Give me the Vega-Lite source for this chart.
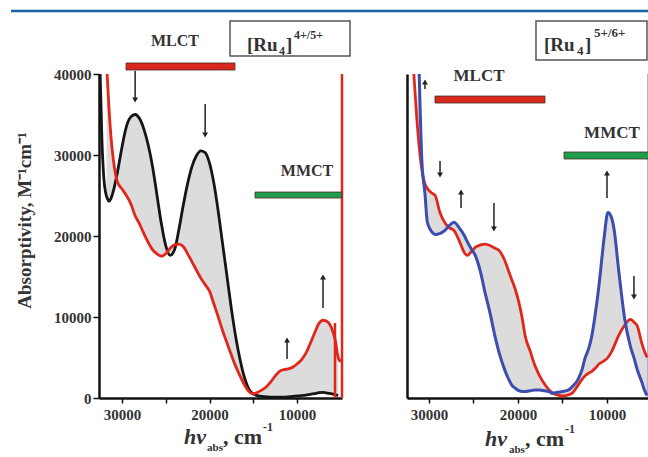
{
  "$schema": "https://vega.github.io/schema/vega-lite/v6.json",
  "padding": {"left": 9, "top": 9, "right": 0, "bottom": 0},
  "bounds": "flush",
  "spacing": 65,
  "config": {
    "view": {"stroke": null},
    "axis": {"domainColor": "#111", "domainWidth": 2.5, "tickColor": "#111", "tickWidth": 1.5, "labelFont": "Liberation Serif", "labelFontWeight": "bold", "labelFontSize": 15, "labelColor": "#333", "titleFont": "Liberation Serif", "titleFontWeight": "bold", "titleFontSize": 19, "titleColor": "#333", "grid": false, "labelOverlap": false},
    "text": {"font": "Liberation Serif", "fontWeight": "bold", "color": "#333"}
  },
  "hconcat": [
    {
      "width": 243,
      "height": 324,
      "encoding": {
        "x": {"field": "x", "type": "quantitative", "scale": {"domain": [4860, 32630], "reverse": true, "nice": false, "zero": false},
          "axis": {"values": [30000, 25000, 20000, 15000, 10000], "format": "d", "labelExpr": "datum.value % 10000 === 0 ? datum.label : ''", "tickSize": 5, "labelPadding": 4, "title": null}},
        "y": {"field": "y", "type": "quantitative", "scale": {"domain": [0, 40000], "nice": false, "zero": false},
          "axis": {"values": [0, 10000, 20000, 30000, 40000], "format": "d", "tickSize": 6, "labelPadding": 2, "title": "Absorptivity, M⁻¹cm⁻¹", "titleX": -75, "titleY": 146, "titleAngle": 270, "titleAlign": "center", "titleBaseline": "middle"}}
      },
      "layer": [
        {
          "data": {"values": [{"x": 42690, "x2": -30340, "y": 47780}]},
          "mark": {"type": "rule", "color": "#1b63a0", "strokeWidth": 2.5},
          "encoding": {"x2": {"field": "x2"}}
        },
        {
          "data": {"name": "left"},
          "mark": {"type": "area", "color": "#c4c4c4", "opacity": 0.6, "interpolate": "monotone"},
          "encoding": {"y": {"field": "black", "type": "quantitative", "scale": {"domain": [0, 40000], "nice": false, "zero": false},
            "axis": {"values": [0, 10000, 20000, 30000, 40000], "format": "d", "tickSize": 6, "labelPadding": 2, "title": "Absorptivity, M⁻¹cm⁻¹", "titleX": -75, "titleY": 146, "titleAngle": 270, "titleAlign": "center", "titleBaseline": "middle"}}, "y2": {"field": "red"}}
        },
        {
          "data": {"name": "left"},
          "mark": {"type": "line", "color": "#151515", "strokeWidth": 2.8, "interpolate": "monotone"},
          "encoding": {"y": {"field": "black", "type": "quantitative", "scale": {"domain": [0, 40000], "nice": false, "zero": false},
            "axis": {"values": [0, 10000, 20000, 30000, 40000], "format": "d", "tickSize": 6, "labelPadding": 2, "title": "Absorptivity, M⁻¹cm⁻¹", "titleX": -75, "titleY": 146, "titleAngle": 270, "titleAlign": "center", "titleBaseline": "middle"}}}
        },
        {
          "data": {"name": "left"},
          "mark": {"type": "line", "color": "#e1261c", "strokeWidth": 2.8, "interpolate": "monotone"},
          "encoding": {"y": {"field": "red", "type": "quantitative", "scale": {"domain": [0, 40000], "nice": false, "zero": false},
            "axis": {"values": [0, 10000, 20000, 30000, 40000], "format": "d", "tickSize": 6, "labelPadding": 2, "title": "Absorptivity, M⁻¹cm⁻¹", "titleX": -75, "titleY": 146, "titleAngle": 270, "titleAlign": "center", "titleBaseline": "middle"}}}
        },
        {
          "data": {"values": [{"x": 4860, "y": 0, "y2": 40000}, {"x": 5660, "y": 0, "y2": 9260}]},
          "mark": {"type": "rule", "color": "#e1261c", "strokeWidth": 2.5},
          "encoding": {"y2": {"field": "y2"}}
        },
        {
          "data": {"values": [{"x": 29540, "x2": 17090, "y": 40490, "y2": 41360, "band": "MLCT"}, {"x": 14800, "x2": 4900, "y": 24690, "y2": 25430, "band": "MMCT"}]},
          "mark": {"type": "rect", "stroke": "#4a2a20", "strokeWidth": 0.8},
          "encoding": {"x2": {"field": "x2"}, "y2": {"field": "y2"}, "color": {"field": "band", "type": "nominal", "scale": {"domain": ["MLCT", "MMCT"], "range": ["#d8281e", "#1e9e4c"]}, "legend": null}}
        },
        {
          "data": {"values": [{"x": 23943, "y": 44075, "t": "MLCT"}, {"x": 8857, "y": 28025, "t": "MMCT"}]},
          "mark": {"type": "text", "fontSize": 16, "baseline": "middle", "align": "center"},
          "encoding": {"text": {"field": "t"}}
        },
        {
          "data": {"name": "leftArrows"},
          "mark": {"type": "rule", "color": "#222", "strokeWidth": 1.5},
          "encoding": {"y2": {"field": "y2"}}
        },
        {
          "data": {"name": "leftHeads"},
          "mark": {"type": "point", "filled": true, "color": "#222", "opacity": 1, "size": 35},
          "encoding": {"shape": {"field": "d", "type": "nominal", "scale": {"domain": ["down", "up"], "range": ["triangle-down", "triangle-up"]}, "legend": null}}
        },
        {
          "data": {"values": [{"x": 17657, "x2": 3943, "y": 42223, "y2": 46543}]},
          "mark": {"type": "rect", "fill": "white", "stroke": "#555", "strokeWidth": 1.5},
          "encoding": {"x2": {"field": "x2"}, "y2": {"field": "y2"}}
        },
        {
          "data": {"values": [{"x": 15714, "y": 42840, "t": "[Ru"}, {"x": 11257, "y": 42840, "t": "]"}]},
          "mark": {"type": "text", "fontSize": 19, "align": "left", "baseline": "alphabetic"},
          "encoding": {"text": {"field": "t"}}
        },
        {
          "data": {"values": [{"x": 12057, "y": 42346, "t": "4"}, {"x": 10343, "y": 44322, "t": "4+/5+"}]},
          "mark": {"type": "text", "fontSize": 12, "align": "left", "baseline": "alphabetic"},
          "encoding": {"text": {"field": "t"}}
        },
        {
          "data": {"values": [{"x": 22914, "y": -5679, "t": "hν"}]},
          "mark": {"type": "text", "fontSize": 22, "fontStyle": "italic", "align": "left", "baseline": "alphabetic"},
          "encoding": {"text": {"field": "t"}}
        },
        {
          "data": {"values": [{"x": 18457, "y": -5679, "t": ", cm"}]},
          "mark": {"type": "text", "fontSize": 22, "align": "left", "baseline": "alphabetic"},
          "encoding": {"text": {"field": "t"}}
        },
        {
          "data": {"values": [{"x": 13886, "y": -4074, "t": "-1"}]},
          "mark": {"type": "text", "fontSize": 12, "align": "left", "baseline": "alphabetic"},
          "encoding": {"text": {"field": "t"}}
        },
        {
          "data": {"values": [{"x": 20286, "y": -6543, "t": "abs"}]},
          "mark": {"type": "text", "fontSize": 11, "align": "left", "baseline": "alphabetic"},
          "encoding": {"text": {"field": "t"}}
        }
      ]
    },
    {
      "width": 242,
      "height": 324,
      "encoding": {
        "x": {"field": "x", "type": "quantitative", "scale": {"domain": [5280, 32470], "reverse": true, "nice": false, "zero": false},
          "axis": {"values": [30000, 25000, 20000, 15000, 10000], "format": "d", "labelExpr": "datum.value % 10000 === 0 ? datum.label : ''", "tickSize": 5, "labelPadding": 4, "title": null}},
        "y": {"field": "y", "type": "quantitative", "scale": {"domain": [0, 40000], "nice": false, "zero": false},
          "axis": {"labels": false, "ticks": false, "title": null, "domain": true}}
      },
      "layer": [
        {
          "data": {"name": "right"},
          "mark": {"type": "area", "color": "#c4c4c4", "opacity": 0.6, "interpolate": "monotone"},
          "encoding": {"y": {"field": "red", "type": "quantitative", "scale": {"domain": [0, 40000], "nice": false, "zero": false}, "axis": {"labels": false, "ticks": false, "title": null, "domain": true}}, "y2": {"field": "blue"}}
        },
        {
          "data": {"name": "right"},
          "mark": {"type": "line", "color": "#e1261c", "strokeWidth": 2.8, "interpolate": "monotone"},
          "encoding": {"y": {"field": "red", "type": "quantitative", "scale": {"domain": [0, 40000], "nice": false, "zero": false}, "axis": {"labels": false, "ticks": false, "title": null, "domain": true}}}
        },
        {
          "data": {"name": "right"},
          "mark": {"type": "line", "color": "#3c4db0", "strokeWidth": 3, "interpolate": "monotone"},
          "encoding": {"y": {"field": "blue", "type": "quantitative", "scale": {"domain": [0, 40000], "nice": false, "zero": false}, "axis": {"labels": false, "ticks": false, "title": null, "domain": true}}}
        },
        {
          "data": {"values": [{"x": 5300, "y": 0, "y2": 40000}]},
          "mark": {"type": "rule", "color": "#3c4db0", "strokeWidth": 2.5},
          "encoding": {"y2": {"field": "y2"}}
        },
        {
          "data": {"values": [{"x": 29326, "x2": 16966, "y": 36420, "y2": 37280, "band": "MLCT"}, {"x": 14830, "x2": 5170, "y": 29510, "y2": 30370, "band": "MMCT"}]},
          "mark": {"type": "rect", "stroke": "#4a2a20", "strokeWidth": 0.8},
          "encoding": {"x2": {"field": "x2"}, "y2": {"field": "y2"}, "color": {"field": "band", "type": "nominal", "scale": {"domain": ["MLCT", "MMCT"], "range": ["#d8281e", "#1e9e4c"]}, "legend": null}}
        },
        {
          "data": {"values": [{"x": 24380, "y": 39750, "t": "MLCT"}, {"x": 9440, "y": 32720, "t": "MMCT"}]},
          "mark": {"type": "text", "fontSize": 17, "baseline": "middle", "align": "center"},
          "encoding": {"text": {"field": "t"}}
        },
        {
          "data": {"name": "rightArrows"},
          "mark": {"type": "rule", "color": "#222", "strokeWidth": 1.5},
          "encoding": {"y2": {"field": "y2"}}
        },
        {
          "data": {"name": "rightHeads"},
          "mark": {"type": "point", "filled": true, "color": "#222", "opacity": 1, "size": 35},
          "encoding": {"shape": {"field": "d", "type": "nominal", "scale": {"domain": ["down", "up"], "range": ["triangle-down", "triangle-up"]}, "legend": null}}
        },
        {
          "data": {"values": [{"x": 17978, "x2": 5506, "y": 41730, "y2": 46543}]},
          "mark": {"type": "rect", "fill": "white", "stroke": "#555", "strokeWidth": 1.5},
          "encoding": {"x2": {"field": "x2"}, "y2": {"field": "y2"}}
        },
        {
          "data": {"values": [{"x": 17079, "y": 42840, "t": "[Ru"}, {"x": 12472, "y": 42840, "t": "]"}]},
          "mark": {"type": "text", "fontSize": 19, "align": "left", "baseline": "alphabetic"},
          "encoding": {"text": {"field": "t"}}
        },
        {
          "data": {"values": [{"x": 13371, "y": 42346, "t": "4"}, {"x": 11461, "y": 44570, "t": "5+/6+"}]},
          "mark": {"type": "text", "fontSize": 13, "align": "left", "baseline": "alphabetic"},
          "encoding": {"text": {"field": "t"}}
        },
        {
          "data": {"values": [{"x": 23708, "y": -5926, "t": "hν"}]},
          "mark": {"type": "text", "fontSize": 22, "fontStyle": "italic", "align": "left", "baseline": "alphabetic"},
          "encoding": {"text": {"field": "t"}}
        },
        {
          "data": {"values": [{"x": 19213, "y": -5926, "t": ", cm"}]},
          "mark": {"type": "text", "fontSize": 22, "align": "left", "baseline": "alphabetic"},
          "encoding": {"text": {"field": "t"}}
        },
        {
          "data": {"values": [{"x": 14719, "y": -4321, "t": "-1"}]},
          "mark": {"type": "text", "fontSize": 12, "align": "left", "baseline": "alphabetic"},
          "encoding": {"text": {"field": "t"}}
        },
        {
          "data": {"values": [{"x": 21011, "y": -6790, "t": "abs"}]},
          "mark": {"type": "text", "fontSize": 11, "align": "left", "baseline": "alphabetic"},
          "encoding": {"text": {"field": "t"}}
        }
      ]
    }
  ],
  "datasets": {
    "left": [
      {"x": 32500, "black": 40000, "red": null},
      {"x": 32300, "black": 32000, "red": null},
      {"x": 32100, "black": 27500, "red": null},
      {"x": 31800, "black": 25000, "red": null},
      {"x": 31700, "black": 24700, "red": 40000},
      {"x": 31500, "black": 24300, "red": 36000},
      {"x": 31200, "black": 24800, "red": 31500},
      {"x": 31000, "black": 25500, "red": 29500},
      {"x": 30500, "black": 28000, "red": 26600},
      {"x": 30000, "black": 31000, "red": 25800},
      {"x": 29500, "black": 33500, "red": 25000},
      {"x": 29000, "black": 34700, "red": 24000},
      {"x": 28500, "black": 35000, "red": 22500},
      {"x": 28000, "black": 34500, "red": 21500},
      {"x": 27500, "black": 33200, "red": 20300},
      {"x": 27000, "black": 31200, "red": 19200},
      {"x": 26500, "black": 28500, "red": 18300},
      {"x": 26000, "black": 25000, "red": 17800},
      {"x": 25500, "black": 21500, "red": 17500},
      {"x": 25000, "black": 18800, "red": 17800},
      {"x": 24500, "black": 17600, "red": 18500},
      {"x": 24000, "black": 18300, "red": 18900},
      {"x": 23500, "black": 20800, "red": 19000},
      {"x": 23000, "black": 23800, "red": 18700},
      {"x": 22500, "black": 26500, "red": 17800},
      {"x": 22000, "black": 28600, "red": 16800},
      {"x": 21500, "black": 29900, "red": 15800},
      {"x": 21000, "black": 30500, "red": 14800},
      {"x": 20500, "black": 30300, "red": 14000},
      {"x": 20000, "black": 29000, "red": 13200},
      {"x": 19500, "black": 26500, "red": 11600},
      {"x": 19000, "black": 23000, "red": 10000},
      {"x": 18500, "black": 19000, "red": 8300},
      {"x": 18000, "black": 15000, "red": 6800},
      {"x": 17500, "black": 11000, "red": 5300},
      {"x": 17000, "black": 7500, "red": 3900},
      {"x": 16500, "black": 4700, "red": 2700},
      {"x": 16000, "black": 2500, "red": 1600},
      {"x": 15500, "black": 1100, "red": 800},
      {"x": 15000, "black": 500, "red": 500},
      {"x": 14500, "black": 300, "red": 700},
      {"x": 14000, "black": 200, "red": 1000},
      {"x": 13500, "black": 150, "red": 1400},
      {"x": 13000, "black": 100, "red": 2000},
      {"x": 12500, "black": 100, "red": 2700},
      {"x": 12000, "black": 100, "red": 3300},
      {"x": 11500, "black": 100, "red": 3500},
      {"x": 11000, "black": 150, "red": 3600},
      {"x": 10500, "black": 200, "red": 3800},
      {"x": 10000, "black": 250, "red": 4200},
      {"x": 9500, "black": 300, "red": 4700},
      {"x": 9000, "black": 350, "red": 5500},
      {"x": 8500, "black": 450, "red": 6700},
      {"x": 8000, "black": 550, "red": 8000},
      {"x": 7500, "black": 650, "red": 9200},
      {"x": 7000, "black": 700, "red": 9600},
      {"x": 6500, "black": 600, "red": 9400},
      {"x": 6000, "black": 500, "red": 8500},
      {"x": 5600, "black": 400, "red": 7000},
      {"x": 5300, "black": 300, "red": 5000},
      {"x": 5000, "black": null, "red": 4500}
    ],
    "right": [
      {"x": 31700, "red": 40000, "blue": null},
      {"x": 31400, "red": 35000, "blue": null},
      {"x": 31100, "red": 31000, "blue": 40000},
      {"x": 30800, "red": 28200, "blue": 29300},
      {"x": 30450, "red": 26400, "blue": 25200},
      {"x": 30200, "red": 25900, "blue": 21800},
      {"x": 29800, "red": 25400, "blue": 20700},
      {"x": 29300, "red": 25000, "blue": 20200},
      {"x": 28800, "red": 23000, "blue": 20300},
      {"x": 28200, "red": 21600, "blue": 20700},
      {"x": 27700, "red": 21000, "blue": 21300},
      {"x": 27200, "red": 20700, "blue": 21700},
      {"x": 26600, "red": 19400, "blue": 21000},
      {"x": 26000, "red": 17900, "blue": 20000},
      {"x": 25700, "red": 17600, "blue": 19300},
      {"x": 25300, "red": 18000, "blue": 18500},
      {"x": 24800, "red": 18600, "blue": 17600},
      {"x": 24200, "red": 18900, "blue": 15500},
      {"x": 23700, "red": 19000, "blue": 13000},
      {"x": 23100, "red": 18800, "blue": 10300},
      {"x": 22600, "red": 18500, "blue": 7700},
      {"x": 22100, "red": 18200, "blue": 5500},
      {"x": 21500, "red": 17000, "blue": 3500},
      {"x": 21000, "red": 15500, "blue": 2200},
      {"x": 20700, "red": 14600, "blue": 1600},
      {"x": 20300, "red": 13400, "blue": 1200},
      {"x": 19900, "red": 11800, "blue": 900},
      {"x": 19500, "red": 9700, "blue": 800},
      {"x": 19200, "red": 7700, "blue": 800},
      {"x": 18600, "red": 5700, "blue": 900},
      {"x": 18100, "red": 4000, "blue": 1000},
      {"x": 17600, "red": 2800, "blue": 1000},
      {"x": 17000, "red": 1700, "blue": 900},
      {"x": 16500, "red": 1000, "blue": 800},
      {"x": 16200, "red": 700, "blue": 600},
      {"x": 15500, "red": 350, "blue": 700},
      {"x": 15000, "red": 250, "blue": 800},
      {"x": 14300, "red": 400, "blue": 1000},
      {"x": 13900, "red": 600, "blue": 1400},
      {"x": 13300, "red": 1500, "blue": 2200},
      {"x": 12800, "red": 2300, "blue": 3500},
      {"x": 12500, "red": 2700, "blue": 4800},
      {"x": 12000, "red": 3100, "blue": 6300},
      {"x": 11700, "red": 3300, "blue": 7700},
      {"x": 11300, "red": 3700, "blue": 10500},
      {"x": 10900, "red": 4200, "blue": 13900},
      {"x": 10600, "red": 4400, "blue": 17000},
      {"x": 10300, "red": 4600, "blue": 20000},
      {"x": 9900, "red": 5000, "blue": 22900},
      {"x": 9500, "red": 5700, "blue": 22300},
      {"x": 9200, "red": 6400, "blue": 20800},
      {"x": 8700, "red": 7700, "blue": 15900},
      {"x": 8000, "red": 9000, "blue": 9700},
      {"x": 7400, "red": 9700, "blue": 6500},
      {"x": 6900, "red": 9300, "blue": 4700},
      {"x": 6600, "red": 8900, "blue": 3500},
      {"x": 6100, "red": 6800, "blue": 2000},
      {"x": 5800, "red": 5800, "blue": 1000},
      {"x": 5500, "red": 5000, "blue": 300}
    ],
    "leftArrows": [
      {"x": 28500, "y": 40370, "y2": 36790},
      {"x": 20500, "y": 36300, "y2": 32470},
      {"x": 11140, "y": 4810, "y2": 7160},
      {"x": 7030, "y": 11110, "y2": 14940}
    ],
    "leftHeads": [
      {"x": 28500, "y": 36790, "d": "down"},
      {"x": 20500, "y": 32470, "d": "down"},
      {"x": 11140, "y": 7160, "d": "up"},
      {"x": 7030, "y": 14940, "d": "up"}
    ],
    "rightArrows": [
      {"x": 30450, "y": 38150, "y2": 39010},
      {"x": 28760, "y": 29260, "y2": 27530},
      {"x": 26400, "y": 23460, "y2": 25430},
      {"x": 22700, "y": 24070, "y2": 20860},
      {"x": 10000, "y": 24690, "y2": 27780},
      {"x": 6970, "y": 15060, "y2": 12470}
    ],
    "rightHeads": [
      {"x": 30450, "y": 39010, "d": "up"},
      {"x": 28760, "y": 27530, "d": "down"},
      {"x": 26400, "y": 25430, "d": "up"},
      {"x": 22700, "y": 20860, "d": "down"},
      {"x": 10000, "y": 27780, "d": "up"},
      {"x": 6970, "y": 12470, "d": "down"}
    ]
  }
}
